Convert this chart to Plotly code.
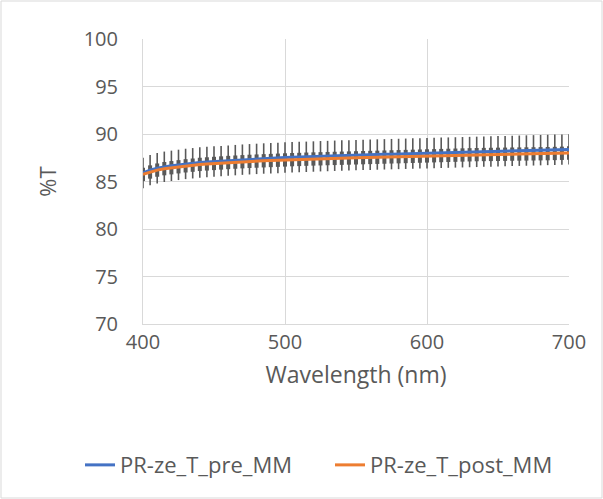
import plotly.graph_objects as go

wavelength = list(range(400, 701, 5))
pre_mm = [85.9, 86.2, 86.4, 86.55, 86.65, 86.75, 86.85, 86.92, 87.0, 87.05,
          87.1, 87.15, 87.2, 87.25, 87.3, 87.34, 87.38, 87.42, 87.45, 87.48,
          87.52, 87.55, 87.58, 87.6, 87.63, 87.66, 87.68, 87.71, 87.73, 87.75,
          87.78, 87.8, 87.82, 87.84, 87.86, 87.88, 87.9, 87.92, 87.94, 87.96,
          87.98, 88.0, 88.02, 88.04, 88.06, 88.08, 88.1, 88.12, 88.14, 88.16,
          88.18, 88.2, 88.22, 88.24, 88.26, 88.28, 88.3, 88.32, 88.34, 88.36, 88.38]
post_mm = [85.75, 86.0, 86.2, 86.35, 86.45, 86.55, 86.65, 86.72, 86.8, 86.85,
           86.9, 86.95, 87.0, 87.04, 87.08, 87.12, 87.15, 87.18, 87.21, 87.24,
           87.27, 87.3, 87.32, 87.35, 87.37, 87.39, 87.41, 87.43, 87.45, 87.47,
           87.49, 87.51, 87.53, 87.55, 87.57, 87.59, 87.61, 87.63, 87.65, 87.67,
           87.69, 87.71, 87.73, 87.75, 87.77, 87.79, 87.81, 87.83, 87.84, 87.85,
           87.86, 87.87, 87.88, 87.89, 87.9, 87.91, 87.92, 87.93, 87.95, 87.97, 88.0]
err_pre = [1.6] * len(wavelength)
err_post = [0.7] * len(wavelength)

fig = go.Figure()
# error bars first so the lines are drawn on top
fig.add_trace(go.Scatter(
    x=wavelength, y=pre_mm, mode="markers", showlegend=False, hoverinfo="skip",
    marker=dict(size=1, color="rgba(0,0,0,0)"),
    error_y=dict(type="data", array=err_pre, color="#595959", thickness=1.6, width=0),
))
fig.add_trace(go.Scatter(
    x=wavelength, y=post_mm, mode="markers", showlegend=False, hoverinfo="skip",
    marker=dict(size=1, color="rgba(0,0,0,0)"),
    error_y=dict(type="data", array=err_post, color="#595959", thickness=4, width=0),
))
fig.add_trace(go.Scatter(
    x=wavelength, y=pre_mm, mode="lines", name="PR-ze_T_pre_MM",
    line=dict(color="#4472C4", width=3), legend="legend",
))
fig.add_trace(go.Scatter(
    x=wavelength, y=post_mm, mode="lines", name="PR-ze_T_post_MM",
    line=dict(color="#ED7D31", width=3), legend="legend2",
))

font_family = "Open Sans, Liberation Sans, sans-serif"
legend_common = dict(orientation="h", y=-0.495, yanchor="middle", xanchor="left",
                     font=dict(size=22, color="#595959"), bgcolor="rgba(0,0,0,0)")
fig.update_layout(
    width=603, height=499,
    margin=dict(l=143, r=34, t=39, b=175),
    paper_bgcolor="white", plot_bgcolor="white",
    font=dict(family=font_family, color="#595959", size=18),
    showlegend=True,
    legend=dict(x=(80 - 143) / 426, **legend_common),
    legend2=dict(x=(330 - 143) / 426, **legend_common),
    xaxis=dict(range=[400, 700], dtick=100, tick0=400, showgrid=True, gridcolor="#D9D9D9",
               gridwidth=1, showline=True, linecolor="#D9D9D9", zeroline=False,
               ticks="", tickfont=dict(size=20, color="#595959"),
               title=dict(text="Wavelength (nm)", font=dict(size=23, color="#595959"), standoff=12)),
    yaxis=dict(range=[70, 100], dtick=5, tick0=70, showgrid=True, gridcolor="#D9D9D9",
               gridwidth=1, showline=True, linecolor="#D9D9D9", zeroline=False,
               ticks="", tickfont=dict(size=20, color="#595959"), ticklabelstandoff=20,
               title=dict(text="%T", font=dict(size=22, color="#595959"), standoff=20)),
    shapes=[dict(type="rect", xref="paper", yref="paper",
                 x0=(1 - 143) / 426, x1=(602 - 143) / 426,
                 y0=(324 - 498) / 285, y1=(324 - 1) / 285,
                 line=dict(color="#D9D9D9", width=1), fillcolor="rgba(0,0,0,0)", layer="below")],
)

fig.write_html("out.html", config={"displayModeBar": False},
               post_script="document.body.style.margin='0';document.body.style.padding='0';")
